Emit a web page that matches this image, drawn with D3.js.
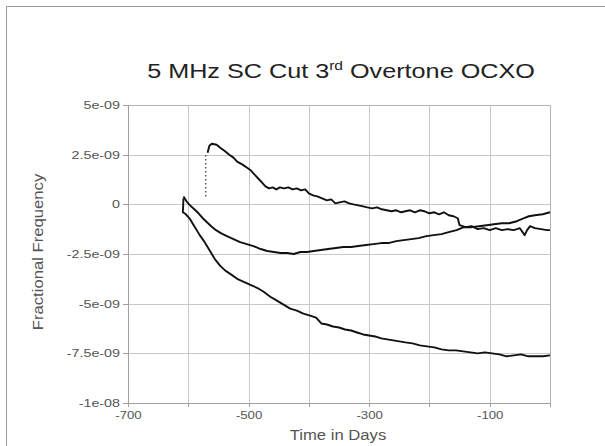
<!DOCTYPE html>
<html lang="en">
<head>
<meta charset="UTF-8">
<title>5 MHz SC Cut 3rd Overtone OCXO</title>
<script src="https://d3js.org/d3.v7.min.js"></script>
<style>
    body { margin: 0; background: #fff; font-family: "Liberation Sans", Arial, sans-serif; }
    svg { display: block; }
    .grid line { stroke: #c8c8c8; stroke-width: 1px; shape-rendering: crispEdges; }
    .axis path, .axis line { stroke: #a0a0a0; shape-rendering: crispEdges; }
    .axis text { font-size: 11px; fill: #555; font-family: "Liberation Sans", Arial, sans-serif; }
    .axis-label { font-size: 14.5px; fill: #555; }
    .title { font-size: 21px; fill: #222; }
    .trace { fill: none; stroke: #111; stroke-width: 1.9px; stroke-linejoin: round; }
</style>
</head>
<body>
<div id="chart"></div>
<script>
    // --- data (fractional frequency in units of 1e-9, time in days) ---
    const xTicks = [-700, -600, -500, -400, -300, -200, -100, 0];
    const xTickLabels = ["-700", "", "-500", "", "-300", "", "-100", ""];
    const yTicks = [5e-9, 2.5e-9, 0, -2.5e-9, -5e-9, -7.5e-9, -1e-8];
    const yTickLabels = ["5e-09", "2.5e-09", "0", "-2.5e-09", "-5e-09", "-7.5e-09", "-1e-08"];

    // upper trace: dotted turn-on step, then drift from peak
    const riseDays = [-571, -571];
    const riseVals = [0.4, 2.6];
    const upperDays = [-568, -565, -561, -553, -547, -540, -532, -525, -519, -510, -503, -496, -490, -484, -478, -472,
        -466, -460, -454, -448, -441, -434, -427, -420, -413, -406, -400, -393, -386, -378, -370, -363, -356, -349,
        -341, -333, -326, -318, -310, -303, -295, -287, -279, -271, -263, -255, -247, -240, -232, -224, -216, -208,
        -200, -192, -184, -176, -168, -160, -153,
        -150, -140, -130, -120, -110, -100, -90, -80, -70, -60, -50, -42, -38, -33, -25, -15, -5, 0];
    const upperVals = [2.6, 2.95, 3.05, 3.0, 2.85, 2.7, 2.5, 2.35, 2.15, 2.0, 1.85, 1.7, 1.5, 1.3, 1.1, 0.9,
        0.8, 0.85, 0.75, 0.85, 0.8, 0.85, 0.75, 0.8, 0.7, 0.75, 0.55, 0.45, 0.4, 0.3, 0.2, 0.25, 0.05, 0.1,
        0.15, 0.05, 0.0, -0.05, -0.1, -0.15, -0.2, -0.15, -0.25, -0.3, -0.35, -0.3, -0.4, -0.35, -0.3, -0.4, -0.3, -0.35,
        -0.45, -0.4, -0.5, -0.4, -0.55, -0.6, -0.7,
        -1.05, -1.15, -1.1, -1.25, -1.2, -1.3, -1.2, -1.3, -1.25, -1.3, -1.2, -1.55, -1.3, -1.1, -1.2, -1.25, -1.3, -1.3];

    // middle trace
    const middleDays = [-608, -603, -597, -590, -583, -576, -569, -562, -554, -546, -536, -525, -514, -503, -492, -480,
        -469, -458, -447, -436, -425, -414, -403, -392, -380, -368, -355, -343, -330, -318, -305, -293, -280, -268,
        -255, -243, -230, -218, -205, -193, -180, -168, -155, -143, -130, -118, -105, -93, -80, -68, -55, -43, -35,
        -25, -12, 0];
    const middleVals = [0.4, 0.15, -0.05, -0.25, -0.45, -0.7, -0.9, -1.1, -1.3, -1.45, -1.6, -1.75, -1.9, -2.0, -2.1, -2.25,
        -2.35, -2.4, -2.45, -2.45, -2.5, -2.4, -2.4, -2.35, -2.3, -2.25, -2.2, -2.15, -2.15, -2.1, -2.05, -2.0, -1.95, -1.95,
        -1.85, -1.8, -1.75, -1.7, -1.6, -1.55, -1.5, -1.4, -1.3, -1.15, -1.15, -1.1, -1.05, -1.0, -0.95, -0.95, -0.85, -0.7, -0.6,
        -0.55, -0.5, -0.4];

    // lower trace
    const lowerDays = [-608, -609, -604, -597, -590, -581, -574, -569, -562, -555, -547, -538, -528, -519, -508, -497,
        -486, -475, -464, -453, -442, -431, -420, -409, -398, -388, -379, -370, -360, -350, -340, -330, -320, -310,
        -300, -290, -280, -270, -260, -250, -240, -228, -216, -204, -192, -180, -168, -156, -144, -132, -120, -108,
        -96, -84, -72, -60, -48, -36, -24, -12, 0];
    const lowerVals = [0.3, -0.4, -0.5, -0.75, -1.1, -1.55, -1.85, -2.1, -2.45, -2.8, -3.1, -3.35, -3.55, -3.75, -3.9, -4.05,
        -4.2, -4.4, -4.65, -4.85, -5.05, -5.25, -5.35, -5.5, -5.6, -5.7, -6.0, -6.05, -6.15, -6.2, -6.3, -6.35, -6.45, -6.55,
        -6.6, -6.65, -6.75, -6.8, -6.85, -6.9, -6.95, -7.0, -7.1, -7.15, -7.2, -7.3, -7.35, -7.35, -7.4, -7.45, -7.5, -7.45,
        -7.5, -7.55, -7.65, -7.6, -7.55, -7.65, -7.65, -7.65, -7.6];

    // --- layout ---
    const W = 605, H = 446;
    const margin = {top: 105, right: 55, bottom: 43, left: 128};
    const width = W - margin.left - margin.right,
          height = H - margin.top - margin.bottom;
    const stretch = 1.3; // the original lettering is drawn wide

    const root = d3.select("#chart").append("svg").attr("width", W).attr("height", H);

    // outer frame (top and left edges visible)
    root.append("line").attr("x1", 6.5).attr("x2", W).attr("y1", 6.5).attr("y2", 6.5).attr("stroke", "#999");
    root.append("line").attr("x1", 6.5).attr("x2", 6.5).attr("y1", 6.5).attr("y2", H).attr("stroke", "#999");

    const title = root.append("g").attr("transform", "translate(341,78) scale(1.2,1)")
        .append("text").attr("class", "title").attr("text-anchor", "middle");
    title.append("tspan").text("5 MHz SC Cut 3");
    title.append("tspan").attr("dy", -8).style("font-size", "13px").text("rd");
    title.append("tspan").attr("dy", 8).text(" Overtone OCXO");

    const svg = root.append("g").attr("transform", `translate(${margin.left},${margin.top})`);

    const x = d3.scaleLinear().domain([-700, 0]).range([0, width]);
    const y = d3.scaleLinear().domain([-1e-8, 5e-9]).range([height, 0]);

    // grid
    svg.append("g").attr("class", "grid").attr("transform", `translate(0,${height})`)
        .call(d3.axisBottom(x).tickValues(xTicks).tickSize(-height).tickFormat(""))
        .call(g => g.select(".domain").remove());
    svg.append("g").attr("class", "grid")
        .call(d3.axisLeft(y).tickValues(yTicks).tickSize(-width).tickFormat(""))
        .call(g => g.select(".domain").remove());

    // plot border
    svg.append("rect").attr("x", 0.5).attr("y", 0.5).attr("width", width).attr("height", height)
        .attr("fill", "none").attr("stroke", "#b4b4b4").attr("shape-rendering", "crispEdges");

    // axes
    svg.append("g").attr("class", "axis").attr("transform", `translate(0,${height})`)
        .call(d3.axisBottom(x).tickValues(xTicks).tickSize(4).tickPadding(4)
            .tickFormat((d, i) => xTickLabels[i]))
        .selectAll("text").attr("transform", `scale(1.2,1)`);
    svg.append("g").attr("class", "axis")
        .call(d3.axisLeft(y).tickValues(yTicks).tickSize(5).tickPadding(8 / stretch - 5))
        .call(g => g.selectAll("text").text((d, i) => yTickLabels[i]).attr("transform", `scale(${stretch},1)`));

    // axis labels
    root.append("g").attr("transform", `translate(${margin.left + width / 2 - 1},440) scale(1.15,1)`)
        .append("text").attr("class", "axis-label").attr("text-anchor", "middle").text("Time in Days");
    root.append("g").attr("transform", `translate(43,${margin.top + height / 2 - 2}) rotate(-90) scale(1.15,1)`)
        .append("text").attr("class", "axis-label").attr("text-anchor", "middle").text("Fractional Frequency");

    // traces
    const line = d3.line().x(d => x(d[0])).y(d => y(d[1] * 1e-9));
    const zip = (a, b) => a.map((v, i) => [v, b[i]]);

    svg.append("path").datum(zip(riseDays, riseVals)).attr("d", line)
        .attr("fill", "none").attr("stroke", "#333").attr("stroke-width", 1.2).attr("stroke-dasharray", "1.5,2.5");
    svg.append("path").attr("class", "trace").datum(zip(upperDays, upperVals)).attr("d", line);
    svg.append("path").attr("class", "trace").datum(zip(middleDays, middleVals)).attr("d", line);
    svg.append("path").attr("class", "trace").datum(zip(lowerDays, lowerVals)).attr("d", line);
</script>
</body>
</html>
